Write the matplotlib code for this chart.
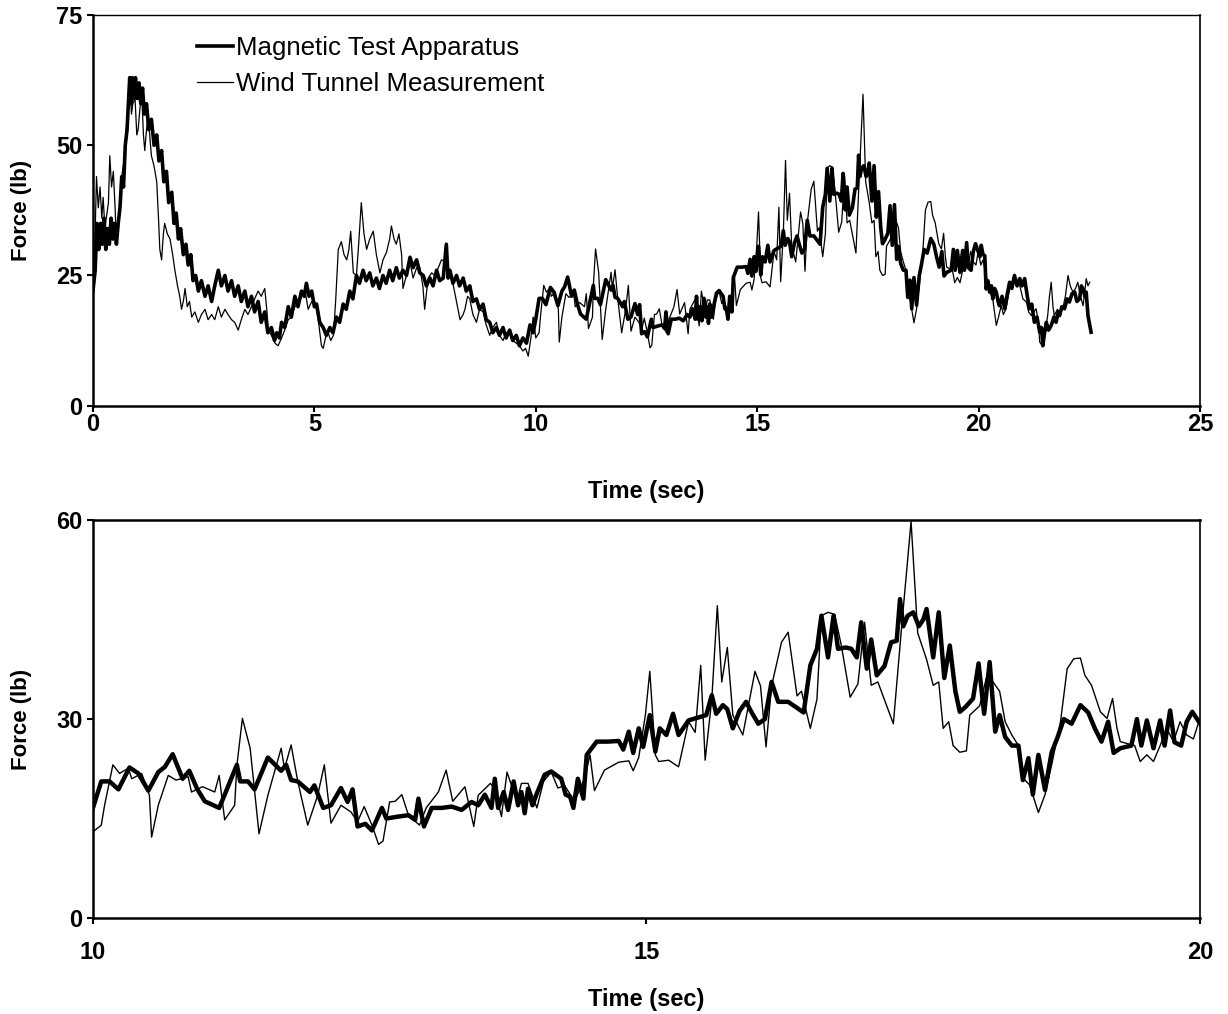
import numpy as np
import matplotlib
matplotlib.use("Agg")
from matplotlib import pyplot as plt

plt.rcParams['font.family'] = ['Liberation Sans', 'DejaVu Sans']

# ---- Magnetic Test Apparatus (thick line) ----
mag_t_a = [0.00, 0.05, 0.09, 0.13, 0.17, 0.21, 0.25, 0.29, 0.33, 0.37, 0.41, 0.45, 0.49, 0.53, 0.57,
           0.61, 0.65, 0.69, 0.73, 0.77, 0.80, 0.83, 0.86, 0.89, 0.92, 0.96, 1.00, 1.04, 1.08, 1.12,
           1.16, 1.21, 1.26, 1.32, 1.38, 1.44, 1.49, 1.55, 1.60, 1.66, 1.71, 1.78, 1.83, 1.88, 1.93,
           1.98, 2.04, 2.10, 2.15, 2.21, 2.26, 2.32, 2.38, 2.45, 2.53, 2.60, 2.68, 2.75, 2.83, 2.90,
           2.98, 3.05, 3.13, 3.20, 3.28, 3.35, 3.43, 3.50, 3.58, 3.65, 3.73, 3.80, 3.88, 3.95, 4.03,
           4.10, 4.15, 4.21, 4.26, 4.33, 4.41, 4.48, 4.56, 4.63, 4.71, 4.77, 4.82, 4.88, 4.94, 5.00,
           5.05, 5.12, 5.20, 5.27, 5.35, 5.42, 5.50, 5.57, 5.65, 5.72, 5.80, 5.87, 5.95, 6.02, 6.10,
           6.17, 6.25, 6.32, 6.40, 6.47, 6.55, 6.62, 6.70, 6.77, 6.85, 6.92, 7.00, 7.08, 7.16, 7.23,
           7.31, 7.38, 7.46, 7.53, 7.61, 7.68, 7.76, 7.83, 7.91, 7.98, 8.02, 8.06, 8.13, 8.21, 8.28,
           8.36, 8.43, 8.51, 8.58, 8.66, 8.73, 8.81, 8.88, 8.96, 9.03, 9.11, 9.18, 9.26, 9.33, 9.41,
           9.48, 9.56, 9.63, 9.71, 9.79, 9.87, 9.94]
mag_f_a = [22, 26, 35, 30, 35, 31, 36, 30, 34, 31, 36, 32, 35, 31, 35,
           38, 44, 42, 50, 53, 58, 63, 58, 63, 59, 63, 59, 62, 58, 61,
           56, 58, 53, 55, 50, 52, 47, 49, 43, 45, 39, 41, 35, 37, 32,
           34, 29, 31, 27, 29, 24, 25, 22, 24, 21, 23, 20, 23, 26, 23,
           25, 22, 24, 21, 23, 20, 22, 19, 21, 18, 20, 16, 18, 14, 15,
           12.5, 14, 13, 16, 15, 19, 17, 21, 19, 22, 21, 23.5, 21, 22, 19,
           19.5, 16, 15, 13.5, 15, 14, 17, 16, 19.5, 18.5, 22, 20.5, 25, 23.5, 26,
           24, 25.5, 23, 24.5, 22.5, 25, 23.5, 26, 24, 26.5, 24.5, 26, 25, 28.5, 26.5,
           28, 25.5, 25, 23, 24.5, 23, 26, 24, 24.5, 31, 24.5, 26, 23.5, 25, 23,
           24.5, 22, 23, 20, 20.5, 18.5, 19.5, 16.5, 16, 14, 15, 13.5, 15, 13, 14.5,
           12.5, 13.5, 11.5, 13, 12, 15.5, 14]

mag_t_b = [10.00, 10.075, 10.15, 10.23, 10.33, 10.41, 10.50, 10.59, 10.65, 10.72, 10.81, 10.87, 10.94,
           11.01, 11.14, 11.19, 11.30, 11.33, 11.40, 11.46, 11.58, 11.70, 11.745, 11.79, 11.85, 11.96,
           12.00, 12.08, 12.15, 12.24, 12.30, 12.345, 12.39, 12.46, 12.52, 12.61, 12.65, 12.76, 12.85,
           12.91, 12.94, 12.99, 13.06, 13.15, 13.24, 13.33, 13.42, 13.48, 13.54, 13.60, 13.63, 13.66,
           13.71, 13.75, 13.80, 13.84, 13.87, 13.90, 13.93, 13.97, 14.01, 14.08, 14.14, 14.23, 14.27,
           14.31, 14.34, 14.38, 14.43, 14.46, 14.55, 14.65, 14.75, 14.79, 14.84, 14.88, 14.93, 14.97,
           15.03, 15.08, 15.12, 15.18, 15.24, 15.29, 15.38, 15.48, 15.54, 15.59, 15.63, 15.69, 15.73,
           15.78, 15.84, 15.90, 15.95, 16.01, 16.07, 16.13, 16.19, 16.28, 16.35, 16.42, 16.48, 16.54,
           16.58, 16.64, 16.69, 16.73, 16.80, 16.85, 16.90, 16.94, 16.99, 17.03, 17.08, 17.15, 17.21,
           17.26, 17.29, 17.32, 17.36, 17.41, 17.46, 17.50, 17.53, 17.59, 17.64, 17.69, 17.74, 17.79,
           17.83, 17.88, 17.95, 18.00, 18.05, 18.10, 18.15, 18.19, 18.24, 18.30, 18.36, 18.40, 18.45,
           18.49, 18.54, 18.60, 18.66, 18.71, 18.77, 18.84, 18.92, 18.99, 19.05, 19.11, 19.17, 19.22,
           19.28, 19.33, 19.38, 19.43, 19.47, 19.52, 19.58, 19.64, 19.68, 19.73, 19.77, 19.83, 19.88,
           19.93, 19.99]
mag_f_b = [16.6, 20.6, 20.6, 19.4, 22.7, 21.8, 19.2, 22.0, 22.8, 24.7, 21.0, 22.2, 19.5,
           17.6, 16.6, 18.6, 23.1, 20.6, 20.6, 19.4, 24.2, 22.2, 23.1, 20.8, 20.6, 19.0,
           20.0, 16.6, 17.0, 19.6, 17.5, 19.4, 13.8, 14.2, 13.2, 16.6, 15.0, 15.3, 15.5,
           14.8, 18.0, 13.8, 16.6, 16.6, 16.8, 16.3, 17.5, 17.0, 18.6, 16.6, 21.0, 16.6,
           19.0, 16.3, 20.6, 17.0, 19.0, 15.8, 19.5, 17.0, 18.8, 21.6, 22.1, 21.0, 18.6,
           18.3, 16.6, 21.0, 18.0, 24.6, 26.6, 26.6, 26.7, 25.4, 28.1, 24.9, 28.6, 25.8,
           30.6, 25.1, 28.6, 27.6, 30.8, 27.6, 29.8, 30.3, 30.6, 33.6, 30.8, 32.1, 31.5,
           28.6, 31.2, 32.6, 31.0, 29.3, 30.0, 35.6, 32.6, 32.6, 31.8, 31.0, 38.1, 40.6,
           45.6, 39.3, 45.6, 40.6, 40.8, 40.6, 39.3, 44.6, 37.6, 42.0, 36.6, 38.0, 41.6,
           41.8, 48.1, 44.0, 45.6, 46.1, 44.0, 45.0, 46.6, 39.3, 46.1, 36.2, 41.1, 34.2,
           31.1, 31.8, 33.1, 38.4, 30.8, 38.6, 28.1, 30.6, 27.3, 26.0, 26.0, 20.8, 24.1,
           18.6, 24.6, 19.3, 25.0, 27.1, 30.0, 29.3, 32.1, 31.0, 28.6, 26.6, 29.6, 24.9,
           25.6, 25.8, 26.0, 30.0, 26.0, 29.8, 25.6, 29.8, 26.0, 31.3, 26.5, 26.0, 29.6,
           31.1, 29.6]

mag_t_c = [20.03, 20.06, 20.10, 20.14, 20.17, 20.21, 20.25, 20.29, 20.32, 20.36, 20.40, 20.44, 20.47,
           20.53, 20.59, 20.65, 20.70, 20.75, 20.81, 20.87, 20.93, 20.98, 21.04, 21.10, 21.15, 21.20,
           21.26, 21.32, 21.38, 21.42, 21.45, 21.49, 21.53, 21.58, 21.64, 21.70, 21.75, 21.80, 21.83,
           21.88, 21.94, 22.00, 22.05, 22.11, 22.17, 22.22, 22.28, 22.32, 22.36, 22.40, 22.43, 22.47,
           22.54]
mag_f_c = [28.6, 30.8, 29.0, 28.8, 22.4, 24.0, 21.8, 23.0, 20.5, 22.5, 21.8, 20.0, 19.2,
           21.0, 18.6, 21.5, 23.7, 22.5, 25.0, 23.0, 24.4, 23.0, 24.4, 21.0, 18.6, 19.5,
           16.0, 17.0, 14.1, 15.0, 11.5, 14.0, 16.0, 14.5, 15.4, 17.0, 16.0, 18.0, 17.3,
           19.0, 18.6, 20.5, 19.9, 21.5, 21.8, 20.0, 20.5, 23.0, 22.4, 21.0, 21.8, 17.3,
           14.1]

# ---- Wind Tunnel Measurement (thin line) ----
wind_t_a = [0.00, 0.04, 0.08, 0.12, 0.16, 0.20, 0.23, 0.27, 0.30, 0.35, 0.38, 0.42, 0.46, 0.50, 0.53,
            0.57, 0.60, 0.65, 0.70, 0.76, 0.80, 0.83, 0.87, 0.90, 0.95, 0.99, 1.02, 1.06, 1.10, 1.14,
            1.17, 1.21, 1.25, 1.29, 1.32, 1.38, 1.44, 1.48, 1.51, 1.55, 1.59, 1.62, 1.68, 1.74, 1.80,
            1.85, 1.91, 1.96, 2.00, 2.04, 2.08, 2.13, 2.18, 2.23, 2.30, 2.38, 2.45, 2.53, 2.60, 2.68,
            2.75, 2.83, 2.90, 2.98, 3.05, 3.13, 3.20, 3.28, 3.35, 3.43, 3.50, 3.58, 3.65, 3.73, 3.80,
            3.88, 3.93, 3.96, 4.03, 4.11, 4.18, 4.26, 4.33, 4.41, 4.48, 4.56, 4.63, 4.71, 4.79, 4.86,
            4.94, 5.01, 5.08, 5.16, 5.20, 5.25, 5.31, 5.37, 5.43, 5.48, 5.54, 5.61, 5.67, 5.73, 5.78,
            5.82, 5.88, 5.95, 6.00, 6.06, 6.12, 6.18, 6.25, 6.33, 6.40, 6.48, 6.55, 6.63, 6.70, 6.74,
            6.80, 6.85, 6.91, 6.97, 7.00, 7.08, 7.16, 7.23, 7.31, 7.38, 7.45, 7.49, 7.57, 7.65, 7.72,
            7.80, 7.87, 7.98, 8.06, 8.14, 8.21, 8.29, 8.36, 8.40, 8.46, 8.51, 8.58, 8.66, 8.73, 8.81,
            8.88, 8.96, 9.03, 9.11, 9.18, 9.26, 9.33, 9.41, 9.48, 9.56, 9.63, 9.71, 9.77, 9.83, 9.89,
            9.94]
wind_f_a = [21, 30, 44, 38, 42, 36, 40, 34, 36, 39, 48, 42, 45, 38, 31,
            36, 38, 44, 47, 54, 58, 63, 56, 58, 59, 52, 53, 57, 60, 52,
            49, 53, 56, 51, 48, 46, 43, 36, 30, 28, 33, 35, 33, 32, 29,
            26, 23, 21, 18.5, 20, 22.5, 19, 20, 17, 18, 16, 17.5, 18.5, 16.5, 17.5,
            16.5, 19, 17, 18.5, 17.5, 16.5, 16, 14.5, 16.5, 18.5, 17.5, 19, 20.5, 22, 21,
            22.5, 18, 14.5, 13.5, 12, 11.5, 13, 14.5, 16.5, 17, 19, 19.5, 21, 22, 18.5,
            20, 20, 17, 11.5, 11, 13, 14, 12.5, 13.5, 20, 30, 31.5, 29, 28, 30,
            33.5, 25.5, 25, 31, 39, 33, 30, 32, 33.5, 29, 25.5, 28, 29.5, 32, 34.5,
            32, 31, 33, 29, 22.5, 25, 27.5, 24.5, 26.5, 26.5, 23, 18.5, 24.5, 25.5, 25,
            26.5, 28, 27.5, 25.5, 23, 20, 16.5, 17.5, 18.5, 21, 20.5, 17.5, 16, 18.5, 18,
            15.5, 13.5, 15, 16, 13.5, 12.5, 14, 14, 12.5, 12, 11.5, 10.5, 11, 9.5, 13,
            17]

wind_t_b = [10.00, 10.075, 10.105, 10.18, 10.24, 10.32, 10.35, 10.44, 10.51, 10.53, 10.59, 10.68,
            10.75, 10.86, 10.89, 10.99, 11.10, 11.14, 11.19, 11.28, 11.30, 11.35, 11.42, 11.50, 11.58,
            11.70, 11.73, 11.79, 11.85, 11.94, 12.03, 12.09, 12.15, 12.24, 12.33, 12.39, 12.45, 12.52,
            12.58, 12.62, 12.68, 12.73, 12.79, 12.85, 12.95, 13.01, 13.12, 13.19, 13.25, 13.36, 13.44,
            13.48, 13.59, 13.63, 13.69, 13.74, 13.83, 13.87, 13.93, 14.01, 14.07, 14.14, 14.20, 14.26,
            14.35, 14.44, 14.49, 14.53, 14.62, 14.75, 14.84, 14.88, 14.93, 14.99, 15.03, 15.08, 15.11,
            15.20, 15.29, 15.38, 15.44, 15.49, 15.53, 15.59, 15.64, 15.68, 15.73, 15.78, 15.87, 15.98,
            16.03, 16.08, 16.13, 16.22, 16.28, 16.36, 16.40, 16.48, 16.54, 16.58, 16.64, 16.70, 16.76,
            16.84, 16.91, 16.97, 17.03, 17.09, 17.23, 17.30, 17.39, 17.45, 17.53, 17.59, 17.64, 17.68,
            17.73, 17.77, 17.83, 17.89, 17.92, 18.01, 18.07, 18.13, 18.19, 18.24, 18.30, 18.36, 18.40,
            18.46, 18.54, 18.60, 18.66, 18.74, 18.80, 18.86, 18.92, 18.96, 19.02, 19.10, 19.16, 19.21,
            19.25, 19.28, 19.41, 19.46, 19.52, 19.58, 19.64, 19.70, 19.76, 19.82, 19.88, 19.94, 19.99]
wind_f_b = [13.0, 14.0, 17.0, 23.1, 21.8, 22.6, 21.0, 21.8, 18.5, 12.2, 17.0, 21.5,
            20.8, 21.3, 19.0, 19.8, 19.0, 21.5, 14.8, 17.0, 23.0, 30.1, 25.6, 12.7, 18.5,
            25.6, 22.5, 26.1, 20.6, 14.0, 18.5, 23.1, 14.3, 17.0, 16.0, 14.5, 16.8, 14.0,
            11.1, 11.6, 17.5, 17.6, 18.6, 15.5, 14.0, 16.6, 19.0, 22.3, 17.6, 19.8, 13.8,
            18.5, 20.3, 19.5, 15.3, 22.0, 17.6, 20.3, 20.3, 16.6, 20.6, 22.0, 19.6, 20.0,
            17.6, 21.0, 24.6, 19.2, 22.3, 23.5, 23.7, 22.2, 24.2, 30.6, 37.2, 24.6, 23.6,
            23.8, 22.8, 29.6, 28.0, 38.1, 23.8, 33.0, 47.1, 35.6, 40.8, 30.6, 27.6, 37.2,
            35.0, 25.8, 35.0, 41.6, 43.1, 33.5, 34.2, 28.6, 33.0, 45.6, 46.1, 45.8, 41.1,
            33.3, 35.3, 44.6, 35.1, 35.6, 29.3, 43.0, 59.8, 43.0, 39.0, 35.1, 35.6, 28.6,
            29.6, 26.0, 25.0, 25.2, 30.6, 32.0, 36.2, 35.6, 34.2, 29.6, 27.6, 26.0, 21.1,
            20.1, 15.9, 18.6, 23.1, 29.6, 37.6, 39.1, 39.2, 36.6, 35.1, 31.1, 30.1, 33.1,
            28.6, 26.6, 26.0, 23.6, 24.6, 23.6, 26.0, 28.6, 26.6, 29.6, 27.6, 27.0, 29.6]

wind_t_c = [20.05, 20.10, 20.17, 20.25, 20.32, 20.36, 20.40, 20.45, 20.51, 20.56, 20.62, 20.70,
            20.75, 20.81, 20.87, 20.93, 21.00, 21.08, 21.13, 21.19, 21.25, 21.30, 21.35, 21.38,
            21.44, 21.49, 21.56, 21.60, 21.64, 21.68, 21.71, 21.78, 21.83, 21.90, 21.96, 22.02,
            22.07, 22.13, 22.19, 22.24, 22.30, 22.36, 22.40, 22.43, 22.47, 22.51]
wind_f_c = [27.0, 28.0, 25.0, 22.0, 20.5, 18.0, 15.4, 17.0, 19.2, 17.5, 18.6, 22.4,
            23.5, 25.0, 24.0, 23.1, 20.5, 19.9, 18.0, 17.3, 18.0, 18.6, 16.0, 12.2,
            11.5, 13.5, 17.3, 21.0, 23.7, 19.0, 17.3, 18.5, 17.9, 18.6, 21.0, 25.0,
            23.0, 21.8, 22.5, 23.7, 21.0, 19.2, 22.0, 24.4, 23.0, 23.7]

mag_t = np.array(mag_t_a + mag_t_b + mag_t_c)
mag_f = np.array(mag_f_a + mag_f_b + mag_f_c)
wind_t = np.array(wind_t_a + wind_t_b + wind_t_c)
wind_f = np.array(wind_f_a + wind_f_b + wind_f_c)

labels = ['Magnetic Test Apparatus', 'Wind Tunnel Measurement']

fig = plt.figure(figsize=(12.28, 10.14), dpi=100)
ax1 = fig.add_axes([0.0757, 0.600, 0.9015, 0.385])
ax2 = fig.add_axes([0.0757, 0.0947, 0.9015, 0.3923])

# top: whole record
ax1.plot(mag_t, mag_f, color='black', lw=2.6, label=labels[0])
ax1.plot(wind_t, wind_f, color='black', lw=0.9, label=labels[1])
ax1.set_xlim(0, 25)
ax1.set_ylim(0, 75)
ax1.set_xticks([0, 5, 10, 15, 20, 25])
ax1.set_yticks([0, 25, 50, 75])
ax1.set_xlabel('Time (sec)', fontsize=17, fontweight='bold')
ax1.set_ylabel('Force (lb)', fontsize=16, fontweight='bold')
ax1.xaxis.set_label_coords(0.5, -0.19)
ax1.yaxis.set_label_coords(-0.055, 0.5)
leg = ax1.legend(loc='upper left', bbox_to_anchor=(0.094, 0.946), frameon=False,
                 fontsize=18.6, handlelength=1.4, handletextpad=0.1, labelspacing=0.46,
                 borderpad=0, borderaxespad=0)

# bottom: zoom on 10-20 s
m = (mag_t >= 10) & (mag_t <= 20.05)
w = (wind_t >= 10) & (wind_t <= 20.05)
ax2.plot(mag_t[m], mag_f[m], color='black', lw=3.2)
ax2.plot(wind_t[w], wind_f[w], color='black', lw=1.0)
ax2.set_xlim(10, 20)
ax2.set_ylim(0, 60)
ax2.set_xticks([10, 15, 20])
ax2.set_yticks([0, 30, 60])
ax2.set_xlabel('Time (sec)', fontsize=17, fontweight='bold')
ax2.set_ylabel('Force (lb)', fontsize=16, fontweight='bold')
ax2.xaxis.set_label_coords(0.5, -0.176)
ax2.yaxis.set_label_coords(-0.055, 0.5)

for ax in (ax1, ax2):
    for side in ('left', 'bottom', 'top'):
        ax.spines[side].set_linewidth(1.8)
    ax.spines['right'].set_linewidth(1.2)
    ax.tick_params(direction='out', length=4.5, width=1.5, labelsize=17, pad=3)
    for lab in ax.get_xticklabels() + ax.get_yticklabels():
        lab.set_fontweight('bold')
ax1.spines['top'].set_linewidth(1.0)
ax1.tick_params(axis='x', pad=0.5)
ax2.tick_params(axis='x', pad=12)

fig.savefig('out.png', dpi=100)
